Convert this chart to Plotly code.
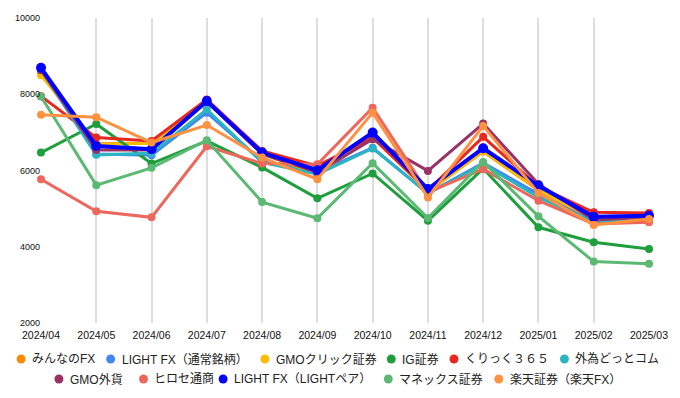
import plotly.graph_objects as go

months = ["2024/04", "2024/05", "2024/06", "2024/07", "2024/08", "2024/09",
          "2024/10", "2024/11", "2024/12", "2025/01", "2025/02", "2025/03"]

names = ["みんなのFX", "LIGHT FX（通常銘柄）", "GMOクリック証券", "IG証券", "くりっく３６５", "外為どっとコム",
         "GMO外貨", "ヒロセ通商", "LIGHT FX（LIGHTペア）", "マネックス証券", "楽天証券（楽天FX）"]

minna = [8550, 6700, 6720, 7830, 6450, 5900, 6900, 5450, 6500, 5480, 4720, 4750]
light_normal = [8650, 6430, 6400, 7517, 6250, 5950, 6600, 5400, 6200, 5380, 4657, 4683]
gmo_click = [8500, 6690, 6714, 7830, 6450, 5900, 6905, 5450, 6513, 5493, 4727, 4754]
ig = [6470, 7219, 6183, 6775, 6080, 5270, 5922, 4683, 6050, 4510, 4118, 3944]
click365 = [7950, 6863, 6775, 7864, 6513, 6120, 6860, 5480, 6883, 5580, 4903, 4885]
gaitame = [8650, 6410, 6453, 7603, 6210, 5904, 6580, 5395, 6165, 5295, 4650, 4700]
gmo_gaika = [8630, 6540, 6540, 7800, 6427, 5950, 6818, 5990, 7230, 5643, 4700, 4780]
hirose = [5770, 4929, 4772, 6636, 6183, 6165, 7646, 5430, 6034, 5206, 4600, 4640]
light_pair = [8693, 6644, 6557, 7820, 6471, 6008, 6994, 5512, 6584, 5598, 4789, 4815]
monex = [7943, 5616, 6070, 6793, 5172, 4746, 6191, 4754, 6226, 4798, 3610, 3551]
rakuten = [7460, 7400, 6733, 7193, 6340, 5773, 7517, 5295, 7170, 5407, 4571, 4727]

series = [minna, light_normal, gmo_click, ig, click365, gaitame,
          gmo_gaika, hirose, light_pair, monex, rakuten]
colors = ["#FB8C00", "#4285F4", "#FBBC04", "#1E9E3C", "#E8281E", "#2BB5C2",
          "#993366", "#EE675C", "#0000FF", "#5BB974", "#FF9140"]

y_ticks = [2000, 4000, 6000, 8000, 10000]

FONT = "Arial, 'Liberation Sans', 'Noto Sans CJK JP', sans-serif"

W, H = 680, 398
L, R, T, B = 41, 28, 18, 75
PW, PH = W - L - R, H - T - B

fig = go.Figure()
for i, (n, s, c) in enumerate(zip(names, series, colors)):
    thick = (i == 8)
    fig.add_trace(go.Scatter(
        x=months, y=s, mode="lines+markers", name=n,
        line=dict(color=c, width=4 if thick else 3),
        marker=dict(color=c, size=10 if thick else 8),
        showlegend=False, cliponaxis=False, hoverinfo="skip"))

# custom two-row legend (dot + text), laid out like the reference
legend_rows = [names[:6], names[6:]]
row_y = [359, 379]
row_dot_x = [[21, 111, 266, 393, 456, 567], [59, 144, 224, 390, 501]]
shapes = []
annotations = []
k = 0
for r, row in enumerate(legend_rows):
    for j, n in enumerate(row):
        cx, cy = row_dot_x[r][j], row_y[r]
        rad = 4.5
        shapes.append(dict(
            type="circle", xref="paper", yref="paper",
            x0=(cx - rad - L) / PW, x1=(cx + rad - L) / PW,
            y0=(H - B - (cy + rad)) / PH, y1=(H - B - (cy - rad)) / PH,
            fillcolor=colors[k], line=dict(width=0)))
        annotations.append(dict(
            text=n, xref="paper", yref="paper",
            x=(cx + 9 - L) / PW, y=(H - B - cy) / PH,
            xanchor="left", yanchor="middle", showarrow=False,
            font=dict(size=12, color="#222", family=FONT)))
        k += 1

fig.update_layout(
    width=W, height=H,
    margin=dict(l=L, r=R, t=T, b=B),
    paper_bgcolor="white", plot_bgcolor="white",
    font=dict(family=FONT, size=12, color="#222"),
    showlegend=False,
    xaxis=dict(type="category", range=[0, 11], showgrid=True,
               gridcolor="#DDDDDD", gridwidth=2, showline=False, zeroline=False,
               tickfont=dict(size=10.5, color="#111"), ticks="",
               ticklabelstandoff=4),
    yaxis=dict(range=[2000, 10000], tickvals=y_ticks, tickformat="d", showgrid=False,
               zeroline=False, showline=False,
               tickfont=dict(size=9, color="#111"), ticks=""),
    shapes=shapes,
    annotations=annotations,
)

fig.write_html("out.html", config={"displayModeBar": False},
               post_script="document.body.style.margin='0';")
